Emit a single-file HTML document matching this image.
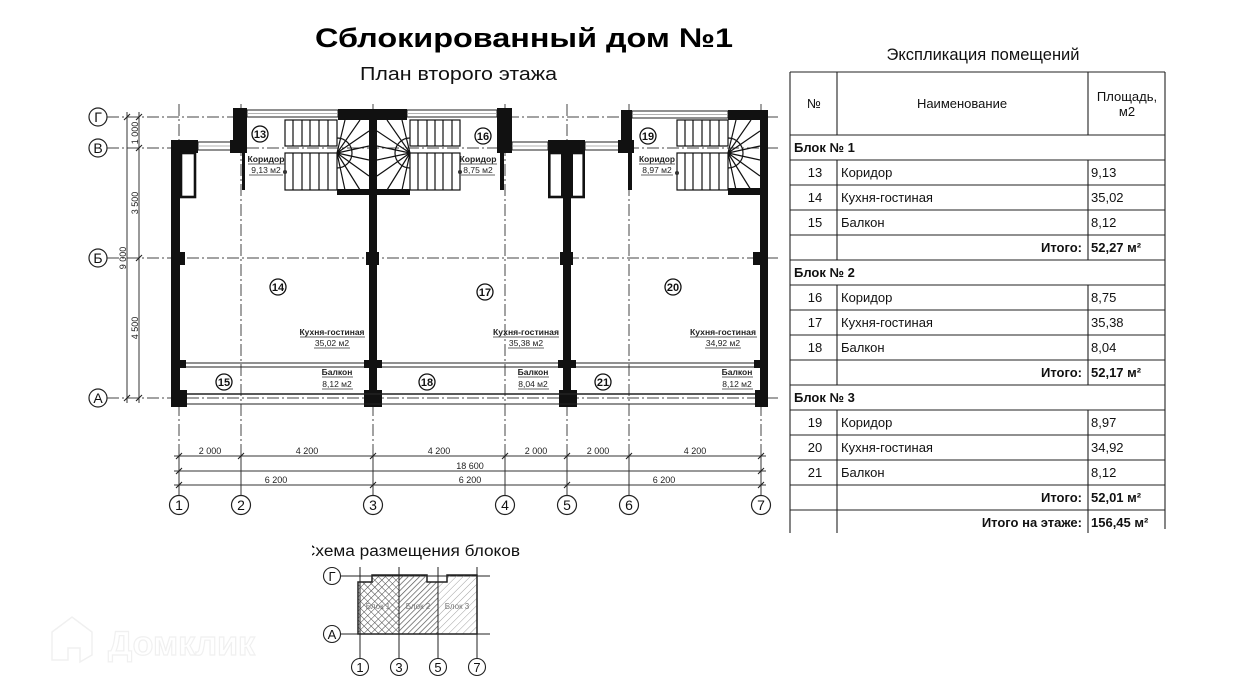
<!DOCTYPE html>
<html><head><meta charset="utf-8"><style>
html,body{margin:0;padding:0;background:#fff;}
svg{display:block;}
</style></head><body>
<svg width="1234" height="699" viewBox="0 0 1234 699" xmlns="http://www.w3.org/2000/svg" font-family="'Liberation Sans', 'Noto Sans CJK SC', sans-serif">
<defs>
<pattern id="cross" width="5" height="5" patternUnits="userSpaceOnUse" patternTransform="rotate(45)">
<line x1="0" y1="0" x2="0" y2="5" stroke="#444" stroke-width="1"/>
<line x1="0" y1="0" x2="5" y2="0" stroke="#444" stroke-width="1"/>
</pattern>
<pattern id="diag1" width="4" height="4" patternUnits="userSpaceOnUse" patternTransform="rotate(45)">
<line x1="0" y1="0" x2="0" y2="4" stroke="#555" stroke-width="1.4"/>
</pattern>
<pattern id="diag2" width="5" height="5" patternUnits="userSpaceOnUse" patternTransform="rotate(45)">
<line x1="0" y1="0" x2="0" y2="5" stroke="#999" stroke-width="0.9"/>
</pattern>
</defs>
<rect width="1234" height="699" fill="#fff"/>

<!-- Titles -->
<text x="315" y="47" font-size="27" font-weight="bold" textLength="418" lengthAdjust="spacingAndGlyphs" fill="#000">Сблокированный дом №1</text>
<text x="360" y="80" font-size="18.5" textLength="197" lengthAdjust="spacingAndGlyphs" fill="#111">План второго этажа</text>

<!-- Axes horizontal -->
<g stroke="#444" stroke-width="1" fill="none" stroke-dasharray="12 3 2 3">
<line x1="107" y1="117" x2="778" y2="117"/>
<line x1="107" y1="148" x2="778" y2="148"/>
<line x1="107" y1="258" x2="778" y2="258"/>
<line x1="107" y1="398" x2="778" y2="398"/>
<line x1="179" y1="104" x2="179" y2="456"/>
<line x1="241" y1="104" x2="241" y2="456"/>
<line x1="373" y1="104" x2="373" y2="456"/>
<line x1="505" y1="104" x2="505" y2="456"/>
<line x1="567" y1="104" x2="567" y2="456"/>
<line x1="629" y1="104" x2="629" y2="456"/>
<line x1="761" y1="104" x2="761" y2="456"/>
</g>
<g stroke="#333" stroke-width="1" fill="none">
<line x1="179" y1="456" x2="179" y2="496"/>
<line x1="241" y1="456" x2="241" y2="496"/>
<line x1="373" y1="456" x2="373" y2="496"/>
<line x1="505" y1="456" x2="505" y2="496"/>
<line x1="567" y1="456" x2="567" y2="496"/>
<line x1="629" y1="456" x2="629" y2="496"/>
<line x1="761" y1="456" x2="761" y2="496"/>
<!-- horizontal dims -->
<line x1="174" y1="456" x2="766" y2="456"/>
<line x1="174" y1="471" x2="766" y2="471"/>
<line x1="174" y1="485" x2="766" y2="485"/>
<!-- vertical dims -->
<line x1="127" y1="112" x2="127" y2="403"/>
<line x1="139" y1="112" x2="139" y2="403"/>
</g>
<!-- ticks -->
<g stroke="#222" stroke-width="1.1">
<path d="M176,459 l6,-6 M238,459 l6,-6 M370,459 l6,-6 M502,459 l6,-6 M564,459 l6,-6 M626,459 l6,-6 M758,459 l6,-6"/>
<path d="M176,474 l6,-6 M758,474 l6,-6"/>
<path d="M176,488 l6,-6 M370,488 l6,-6 M564,488 l6,-6 M758,488 l6,-6"/>
<path d="M124,120 l6,-6 M124,401 l6,-6"/>
<path d="M136,120 l6,-6 M136,151 l6,-6 M136,261 l6,-6 M136,401 l6,-6"/>
</g>
<g font-size="9" fill="#222" text-anchor="middle">
<text x="210" y="454">2 000</text>
<text x="307" y="454">4 200</text>
<text x="439" y="454">4 200</text>
<text x="536" y="454">2 000</text>
<text x="598" y="454">2 000</text>
<text x="695" y="454">4 200</text>
<text x="470" y="469">18 600</text>
<text x="276" y="483">6 200</text>
<text x="470" y="483">6 200</text>
<text x="664" y="483">6 200</text>
<text transform="translate(138,133) rotate(-90)">1 000</text>
<text transform="translate(138,203) rotate(-90)">3 500</text>
<text transform="translate(138,328) rotate(-90)">4 500</text>
<text transform="translate(126,258) rotate(-90)">9 000</text>
</g>

<!-- Axis circles -->
<g stroke="#222" stroke-width="1.2" fill="#fff">
<circle cx="98" cy="117" r="9"/>
<circle cx="98" cy="148" r="9"/>
<circle cx="98" cy="258" r="9"/>
<circle cx="98" cy="398" r="9"/>
<circle cx="179" cy="505" r="9.5"/>
<circle cx="241" cy="505" r="9.5"/>
<circle cx="373" cy="505" r="9.5"/>
<circle cx="505" cy="505" r="9.5"/>
<circle cx="567" cy="505" r="9.5"/>
<circle cx="629" cy="505" r="9.5"/>
<circle cx="761" cy="505" r="9.5"/>
</g>
<g font-size="14" fill="#111" text-anchor="middle">
<text x="98" y="122">Г</text>
<text x="98" y="153">В</text>
<text x="98" y="263">Б</text>
<text x="98" y="403">А</text>
<text x="179" y="510">1</text>
<text x="241" y="510">2</text>
<text x="373" y="510">3</text>
<text x="505" y="510">4</text>
<text x="567" y="510">5</text>
<text x="629" y="510">6</text>
<text x="761" y="510">7</text>
</g>

<!-- Windows (thin double lines) -->
<g stroke="#222" stroke-width="1" fill="#fff">
<rect x="247" y="110" width="91" height="7"/>
<rect x="407" y="110" width="90" height="7"/>
<rect x="632" y="111" width="96" height="7"/>
<rect x="198" y="142" width="35" height="8"/>
<rect x="512" y="142" width="36" height="8"/>
<rect x="585" y="142" width="37" height="8"/>
</g>
<g stroke="#999" stroke-width="0.8">
<line x1="247" y1="113.5" x2="338" y2="113.5"/>
<line x1="407" y1="113.5" x2="497" y2="113.5"/>
<line x1="632" y1="114.5" x2="728" y2="114.5"/>
<line x1="198" y1="146" x2="233" y2="146"/>
<line x1="512" y1="146" x2="548" y2="146"/>
<line x1="585" y1="146" x2="622" y2="146"/>
</g>

<!-- Walls -->
<g fill="#111">
<rect x="171" y="140" width="9" height="267"/>
<rect x="171" y="140" width="27" height="13"/>
<rect x="233" y="108" width="14" height="45"/>
<rect x="230" y="140" width="5" height="13"/>
<rect x="242" y="153" width="3" height="37"/>
<rect x="338" y="109" width="69" height="11"/>
<rect x="369" y="109" width="8" height="298"/>
<rect x="497" y="108" width="15" height="45"/>
<rect x="500" y="153" width="4" height="37"/>
<rect x="548" y="140" width="37" height="13"/>
<rect x="563" y="140" width="8" height="267"/>
<rect x="621" y="110" width="11" height="43"/>
<rect x="618" y="140" width="16" height="13"/>
<rect x="628" y="153" width="4" height="37"/>
<rect x="728" y="110" width="40" height="10"/>
<rect x="760" y="110" width="8" height="297"/>
<!-- stair bottom thick -->
<rect x="337" y="189" width="32" height="6"/>
<rect x="377" y="189" width="33" height="6"/>
<rect x="728" y="188" width="32" height="7"/>
<!-- columns at Б -->
<rect x="172" y="252" width="13" height="13"/>
<rect x="366" y="252" width="13" height="13"/>
<rect x="560" y="252" width="13" height="13"/>
<rect x="753" y="252" width="13" height="13"/>
<!-- balcony line columns -->
<rect x="179" y="360" width="7" height="8"/>
<rect x="364" y="360" width="18" height="8"/>
<rect x="558" y="360" width="18" height="8"/>
<rect x="754" y="360" width="7" height="8"/>
<!-- bottom corner columns -->
<rect x="172" y="390" width="15" height="17"/>
<rect x="364" y="390" width="18" height="17"/>
<rect x="559" y="390" width="18" height="17"/>
<rect x="755" y="390" width="13" height="17"/>
</g>
<!-- chimneys -->
<g fill="none" stroke="#111" stroke-width="2.6">
<rect x="181" y="153" width="14" height="44"/>
<rect x="549.3" y="153" width="13" height="44"/>
<rect x="571.7" y="153" width="12" height="44"/>
</g>

<!-- Balcony door lines & railing -->
<g stroke="#222" stroke-width="1.1" fill="none">
<line x1="186" y1="363" x2="364" y2="363"/>
<line x1="186" y1="367" x2="364" y2="367"/>
<line x1="382" y1="363" x2="558" y2="363"/>
<line x1="382" y1="367" x2="558" y2="367"/>
<line x1="576" y1="363" x2="754" y2="363"/>
<line x1="576" y1="367" x2="754" y2="367"/>
<line x1="187" y1="394" x2="755" y2="394" stroke-width="1.4"/>
<line x1="187" y1="404" x2="755" y2="404"/>
</g>

<!-- Stairs -->
<g stroke="#111" stroke-width="1.2" fill="none">
<!-- block 1 -->
<rect x="285" y="120" width="52" height="26"/>
<rect x="285" y="153" width="52" height="37"/>
<path d="M293,120V146M302,120V146M310,120V146M319,120V146M328,120V146"/>
<path d="M293,153V190M302,153V190M310,153V190M319,153V190M328,153V190"/>
<path d="M337,153L345,120M337,153L360,120M337,153L369,131M337,153L369,146M337,153L369,160M337,153L369,176M337,153L360,190M337,153L345,190"/>
<path d="M337,138A15,15 0 0 1 337,168"/>
<!-- block 2 -->
<rect x="410" y="120" width="50" height="26"/>
<rect x="410" y="153" width="50" height="37"/>
<path d="M418,120V146M427,120V146M435,120V146M443,120V146M452,120V146"/>
<path d="M418,153V190M427,153V190M435,153V190M443,153V190M452,153V190"/>
<path d="M410,153L402,120M410,153L387,120M410,153L377,131M410,153L377,146M410,153L377,160M410,153L377,176M410,153L387,190M410,153L402,190"/>
<path d="M410,138A15,15 0 0 0 410,168"/>
<!-- block 3 -->
<rect x="677" y="120" width="51" height="26"/>
<rect x="677" y="153" width="51" height="37"/>
<path d="M685,120V146M693,120V146M702,120V146M710,120V146M719,120V146"/>
<path d="M685,153V190M693,153V190M702,153V190M710,153V190M719,153V190"/>
<path d="M728,153L736,120M728,153L751,120M728,153L760,131M728,153L760,146M728,153L760,160M728,153L760,176M728,153L751,190M728,153L736,190"/>
<path d="M728,138A15,15 0 0 1 728,168"/>
</g>
<g fill="#333">
<circle cx="285" cy="172" r="2"/>
<circle cx="460" cy="172" r="2"/>
<circle cx="677" cy="173" r="2"/>
</g>

<!-- Room labels -->
<g stroke="#111" stroke-width="1.3" fill="#fff">
<circle cx="260" cy="134" r="8"/>
<circle cx="483" cy="136" r="8"/>
<circle cx="648" cy="136" r="8"/>
<circle cx="278" cy="287" r="8"/>
<circle cx="485" cy="292" r="8"/>
<circle cx="673" cy="287" r="8"/>
<circle cx="224" cy="382" r="8"/>
<circle cx="427" cy="382" r="8"/>
<circle cx="603" cy="382" r="8"/>
</g>
<g font-size="11" font-weight="bold" fill="#111" text-anchor="middle">
<text x="260" y="138">13</text>
<text x="483" y="140">16</text>
<text x="648" y="140">19</text>
<text x="278" y="291">14</text>
<text x="485" y="296">17</text>
<text x="673" y="291">20</text>
<text x="224" y="386">15</text>
<text x="427" y="386">18</text>
<text x="603" y="386">21</text>
</g>
<g font-size="8.5" fill="#222" text-anchor="middle">
<g font-weight="bold">
<text x="266" y="162" textLength="37" lengthAdjust="spacingAndGlyphs">Коридор</text>
<text x="478" y="162" textLength="37" lengthAdjust="spacingAndGlyphs">Коридор</text>
<text x="657" y="162" textLength="36" lengthAdjust="spacingAndGlyphs">Коридор</text>
<text x="332" y="335" textLength="65" lengthAdjust="spacingAndGlyphs">Кухня-гостиная</text>
<text x="526" y="335" textLength="66" lengthAdjust="spacingAndGlyphs">Кухня-гостиная</text>
<text x="723" y="335" textLength="66" lengthAdjust="spacingAndGlyphs">Кухня-гостиная</text>
<text x="337" y="375">Балкон</text>
<text x="533" y="375">Балкон</text>
<text x="737" y="375">Балкон</text>
</g>
<text x="266" y="173">9,13 м2</text>
<text x="478" y="173">8,75 м2</text>
<text x="657" y="173">8,97 м2</text>
<text x="332" y="346">35,02 м2</text>
<text x="526" y="346">35,38 м2</text>
<text x="723" y="346">34,92 м2</text>
<text x="337" y="387">8,12 м2</text>
<text x="533" y="387">8,04 м2</text>
<text x="737" y="387">8,12 м2</text>
</g>
<g stroke="#333" stroke-width="0.7">
<path d="M248,164H285M460,164H497M639,164H675M300,337H365M493,337H559M690,337H757M322,377H353M518,377H549M722,377H753"/>
<path d="M249,175H283M461,175H495M641,175H673M314,348H350M508,348H544M705,348H741M322,389H353M518,389H549M722,389H753"/>
</g>

<!-- Table -->
<text x="983" y="60" font-size="16.5" fill="#111" text-anchor="middle" textLength="193" lengthAdjust="spacingAndGlyphs">Экспликация помещений</text>
<g stroke="#222" stroke-width="1.1" fill="none">
<line x1="790" y1="72" x2="1165" y2="72"/>
<line x1="790" y1="72" x2="790" y2="533"/>
<line x1="1165" y1="72" x2="1165" y2="529"/>
<path d="M790,135H1165M790,160H1165M790,185H1165M790,210H1165M790,235H1165M790,260H1165M790,285H1165M790,310H1165M790,335H1165M790,360H1165M790,385H1165M790,410H1165M790,435H1165M790,460H1165M790,485H1165M790,510H1165"/>
<path d="M837,72V135M1088,72V135M837,160V260M1088,160V260M837,285V385M1088,285V385M837,410V533M1088,410V533"/>
</g>
<g font-size="13" fill="#111">
<text x="814" y="108" text-anchor="middle">№</text>
<text x="962" y="108" text-anchor="middle">Наименование</text>
<text x="1127" y="101" text-anchor="middle">Площадь,</text>
<text x="1127" y="116" text-anchor="middle">м2</text>
<g font-weight="bold">
<text x="794" y="152">Блок № 1</text>
<text x="794" y="277">Блок № 2</text>
<text x="794" y="402">Блок № 3</text>
<text x="1082" y="252" text-anchor="end">Итого:</text>
<text x="1082" y="377" text-anchor="end">Итого:</text>
<text x="1082" y="502" text-anchor="end">Итого:</text>
<text x="1082" y="527" text-anchor="end">Итого на этаже:</text>
<text x="1091" y="252">52,27 м²</text>
<text x="1091" y="377">52,17 м²</text>
<text x="1091" y="502">52,01 м²</text>
<text x="1091" y="527">156,45 м²</text>
</g>
<g text-anchor="middle">
<text x="815" y="177">13</text><text x="815" y="202">14</text><text x="815" y="227">15</text>
<text x="815" y="302">16</text><text x="815" y="327">17</text><text x="815" y="352">18</text>
<text x="815" y="427">19</text><text x="815" y="452">20</text><text x="815" y="477">21</text>
</g>
<text x="841" y="177">Коридор</text><text x="841" y="202">Кухня-гостиная</text><text x="841" y="227">Балкон</text>
<text x="841" y="302">Коридор</text><text x="841" y="327">Кухня-гостиная</text><text x="841" y="352">Балкон</text>
<text x="841" y="427">Коридор</text><text x="841" y="452">Кухня-гостиная</text><text x="841" y="477">Балкон</text>
<text x="1091" y="177">9,13</text><text x="1091" y="202">35,02</text><text x="1091" y="227">8,12</text>
<text x="1091" y="302">8,75</text><text x="1091" y="327">35,38</text><text x="1091" y="352">8,04</text>
<text x="1091" y="427">8,97</text><text x="1091" y="452">34,92</text><text x="1091" y="477">8,12</text>
</g>

<!-- Schema -->
<text x="303" y="556" font-size="15.5" fill="#111" textLength="217" lengthAdjust="spacingAndGlyphs">Схема размещения блоков</text>
<rect x="298" y="540" width="14" height="20" fill="#fff"/>
<g stroke="#222" stroke-width="1" fill="none">
<line x1="341" y1="576" x2="490" y2="576"/>
<line x1="341" y1="634" x2="490" y2="634"/>
<line x1="360" y1="567" x2="360" y2="658"/>
<line x1="399" y1="567" x2="399" y2="658"/>
<line x1="438" y1="567" x2="438" y2="658"/>
<line x1="477" y1="567" x2="477" y2="658"/>
</g>
<path d="M358,582H372V575H399V634H358Z" fill="url(#cross)"/>
<path d="M399,575H427V582H438V634H399Z" fill="url(#diag1)"/>
<path d="M438,582H447V575H477V634H438Z" fill="url(#diag2)"/>
<path d="M358,582H372V575H427V582H447V575H477V634H358Z" fill="none" stroke="#222" stroke-width="1.5"/>
<line x1="399" y1="575" x2="399" y2="634" stroke="#222" stroke-width="1"/>
<line x1="438" y1="582" x2="438" y2="634" stroke="#222" stroke-width="1"/>
<g font-size="8" fill="#777" text-anchor="middle">
<text x="378" y="609">Блок 1</text>
<text x="418" y="609">Блок 2</text>
<text x="457" y="609">Блок 3</text>
</g>
<g stroke="#222" stroke-width="1.1" fill="#fff">
<circle cx="332" cy="576" r="8.5"/>
<circle cx="332" cy="634" r="8.5"/>
<circle cx="360" cy="667" r="8.5"/>
<circle cx="399" cy="667" r="8.5"/>
<circle cx="438" cy="667" r="8.5"/>
<circle cx="477" cy="667" r="8.5"/>
</g>
<g font-size="13" fill="#111" text-anchor="middle">
<text x="332" y="581">Г</text>
<text x="332" y="639">А</text>
<text x="360" y="672">1</text>
<text x="399" y="672">3</text>
<text x="438" y="672">5</text>
<text x="477" y="672">7</text>
</g>

<!-- Watermark (faint) -->
<g fill="#fff" stroke="#efefef" stroke-width="1.5" opacity="0.9">
<path d="M52,632 L72,617 L92,632 L92,655 L80,662 L80,648 L68,648 L68,660 L52,660 Z"/>
<text x="108" y="655" font-size="34" font-weight="bold" stroke-width="1.2">Домклик</text>
</g>
</svg>
</body></html>
